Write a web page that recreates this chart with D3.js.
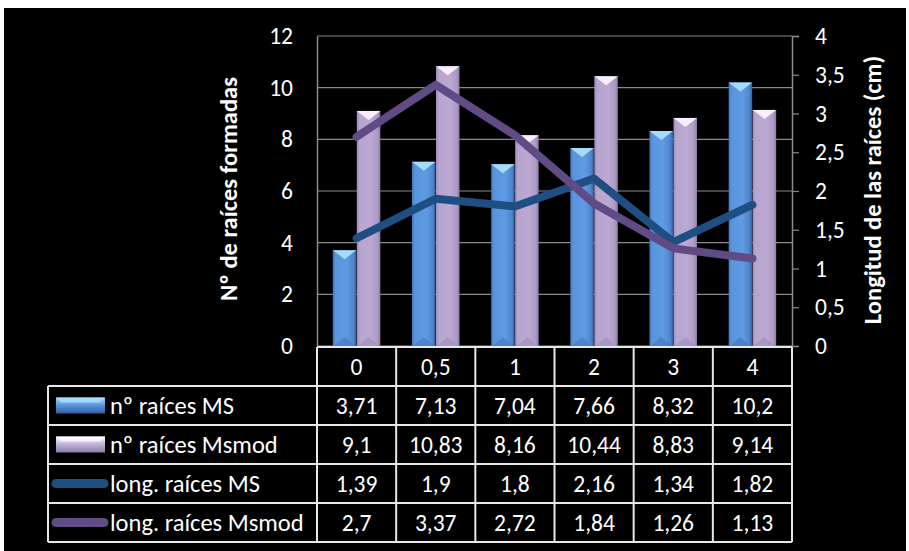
<!DOCTYPE html>
<html>
<head>
<meta charset="utf-8">
<script src="https://cdn.jsdelivr.net/npm/d3@7"></script>
<style>
  html, body { margin: 0; padding: 0; background: #fff; }
  svg { display: block; }
  text { font-family: Carlito, Lato, "Open Sans", sans-serif; fill: #fff; }
</style>
</head>
<body>
<svg id="chart" width="909" height="551"></svg>
<script>
// Concentration categories
const categories = ["0", "0,5", "1", "2", "3", "4"];

// Number of roots formed (left axis)
const raicesMS = [3.71, 7.13, 7.04, 7.66, 8.32, 10.2];
const raicesMsmod = [9.1, 10.83, 8.16, 10.44, 8.83, 9.14];

// Root length in cm (right axis)
const longMS = [1.39, 1.9, 1.8, 2.16, 1.34, 1.82];
const longMsmod = [2.7, 3.37, 2.72, 1.84, 1.26, 1.13];

const leftTicks = [0, 2, 4, 6, 8, 10, 12];
const rightTicks = [0, 0.5, 1, 1.5, 2, 2.5, 3, 3.5, 4];

const seriesNames = ["nº raíces MS", "nº raíces Msmod", "long. raíces MS", "long. raíces Msmod"];

const fmt = v => String(v).replace(".", ",");
const FS = 23.5;

const svg = d3.select("#chart");
const defs = svg.append("defs");

// frame
svg.append("rect").attr("x", 4).attr("y", 8).attr("width", 902).attr("height", 543).attr("fill", "#000");

const plot = { left: 317, right: 792, top: 36, bottom: 346 };

const x = d3.scaleBand().domain(categories).range([plot.left, plot.right]);
const x1 = d3.scaleBand().domain(["MS", "Msmod"])
  .range([x.bandwidth() * 0.2, x.bandwidth() * 0.8]).paddingInner(0.02);
const yL = d3.scaleLinear().domain([0, 12]).range([plot.bottom, plot.top]);
const yR = d3.scaleLinear().domain([0, 4]).range([plot.bottom, plot.top]);

// gradients for bevelled bars
function hGrad(id, stops) {
  const g = defs.append("linearGradient").attr("id", id).attr("x1", 0).attr("x2", 1).attr("y1", 0).attr("y2", 0);
  stops.forEach(s => g.append("stop").attr("offset", s[0]).attr("stop-color", s[1]));
}
hGrad("gBlue", [[0, "#4577bb"], [0.12, "#5a95dc"], [0.6, "#5e9be2"], [0.88, "#4f86cc"], [1, "#33609e"]]);
hGrad("gPurple", [[0, "#9e8cb8"], [0.12, "#b7a5d0"], [0.6, "#bba9d3"], [0.88, "#ad9bc6"], [1, "#8a79a3"]]);
function vGrad(id, stops) {
  const g = defs.append("linearGradient").attr("id", id).attr("x1", 0).attr("x2", 0).attr("y1", 0).attr("y2", 1);
  stops.forEach(s => g.append("stop").attr("offset", s[0]).attr("stop-color", s[1]));
}

// gridlines
svg.append("g").selectAll("line").data(leftTicks).join("line")
  .attr("x1", plot.left).attr("x2", plot.right)
  .attr("y1", d => yL(d)).attr("y2", d => yL(d))
  .attr("stroke", "#8a8a8a").attr("stroke-width", 1.2);

// left axis
const gL = svg.append("g").attr("transform", `translate(${plot.left},0)`)
  .call(d3.axisLeft(yL).tickValues(leftTicks).tickSize(0).tickPadding(24).tickFormat(fmt));
gL.select(".domain").attr("stroke", "#8a8a8a").attr("stroke-width", 1.5);
gL.selectAll("text").attr("fill", "#fff").attr("font-size", FS).style("font-family", "Carlito, Lato, sans-serif");

// right axis
const gR = svg.append("g").attr("transform", `translate(${plot.right},0)`)
  .call(d3.axisRight(yR).tickValues(rightTicks).tickSize(7).tickPadding(16).tickFormat(fmt));
gR.select(".domain").attr("stroke", "#8a8a8a").attr("stroke-width", 1.5);
gR.selectAll(".tick line").attr("stroke", "#8a8a8a").attr("stroke-width", 1.2);
gR.selectAll("text").attr("fill", "#fff").attr("font-size", FS).style("font-family", "Carlito, Lato, sans-serif");

// bars
const barSets = [
  { key: "MS", values: raicesMS, fill: "url(#gBlue)", cap: "#a6dcfb", base: "#4a7fc3" },
  { key: "Msmod", values: raicesMsmod, fill: "url(#gPurple)", cap: "#f7f0fc", base: "#a594bf" }
];
const bars = svg.append("g");
barSets.forEach(s => {
  const g = bars.append("g");
  s.values.forEach((v, i) => {
    const bx = x(categories[i]) + x1(s.key);
    const bw = x1.bandwidth();
    const top = yL(v);
    const bottom = yL(0);
    g.append("rect").attr("x", bx).attr("y", top).attr("width", bw).attr("height", bottom - top).attr("fill", s.fill);
    // cap facet
    g.append("path").attr("d", `M${bx},${top} L${bx + bw},${top} L${bx + bw / 2},${top + 9} Z`).attr("fill", s.cap);
    // base facet
    g.append("path").attr("d", `M${bx + 1},${bottom} L${bx + bw - 1},${bottom} L${bx + bw / 2},${bottom - 9} Z`).attr("fill", s.base).attr("opacity", 0.8);
  });
});

// lines
const lineSets = [
  { values: longMS, color: "#1f4e82" },
  { values: longMsmod, color: "#604b85" }
];
const lineGen = d3.line().x((d, i) => x(categories[i]) + x.bandwidth() / 2).y(d => yR(d));
lineSets.forEach(s => {
  svg.append("path").datum(s.values).attr("d", lineGen)
    .attr("fill", "none").attr("stroke", s.color).attr("stroke-width", 8)
    .attr("stroke-linejoin", "round").attr("stroke-linecap", "round");
});

// axis titles
svg.append("text").attr("transform", "translate(237,189) rotate(-90)")
  .attr("text-anchor", "middle").attr("font-size", 24.5).attr("font-weight", "bold")
  .text("Nº de raíces formadas");
svg.append("text").attr("transform", "translate(881,190) rotate(-90)")
  .attr("text-anchor", "middle").attr("font-size", 24.5).attr("font-weight", "bold")
  .text("Longitud de las raíces (cm)");

// data table
const tbl = svg.append("g");
const headTop = 347, rowH = 39, legendLeft = 48;
const rowsData = [raicesMS, raicesMsmod, longMS, longMsmod];
const tableBottom = headTop + rowH * 5;
function ln(x1v, y1v, x2v, y2v) {
  tbl.append("line").attr("x1", x1v).attr("y1", y1v).attr("x2", x2v).attr("y2", y2v)
    .attr("stroke", "#e8e8e8").attr("stroke-width", 2);
}
// horizontal lines
ln(plot.left, headTop, plot.right, headTop);
for (let r = 1; r <= 5; r++) ln(legendLeft, headTop + rowH * r, plot.right, headTop + rowH * r);
// vertical lines
ln(legendLeft, headTop + rowH, legendLeft, tableBottom);
categories.forEach(c => ln(x(c), headTop, x(c), tableBottom));
ln(plot.right, headTop, plot.right, tableBottom);

// header labels
tbl.selectAll("text.head").data(categories).join("text")
  .attr("x", d => x(d) + x.bandwidth() / 2).attr("y", headTop + rowH / 2 + 8)
  .attr("text-anchor", "middle").attr("font-size", FS).text(d => d);

rowsData.forEach((vals, r) => {
  const cy = headTop + rowH * (r + 1) + rowH / 2;
  vals.forEach((v, i) => {
    tbl.append("text").attr("x", x(categories[i]) + x.bandwidth() / 2).attr("y", cy + 8)
      .attr("text-anchor", "middle").attr("font-size", FS).text(fmt(v));
  });
  tbl.append("text").attr("x", 110).attr("y", cy + 8).attr("font-size", FS + 1).text(seriesNames[r]);
});

// legend keys
vGrad("kBlue", [[0, "#9fd6fb"], [0.45, "#5c9be0"], [1, "#2f5f9f"]]);
vGrad("kPurple", [[0, "#ffffff"], [0.45, "#c5b6db"], [1, "#8c7ba8"]]);
[["kBlue", "#b5e3ff"], ["kPurple", "#ffffff"]].forEach((k, r) => {
  const cy = headTop + rowH * (r + 1) + rowH / 2;
  tbl.append("rect").attr("x", 56).attr("y", cy - 8).attr("width", 49).attr("height", 16).attr("fill", `url(#${k[0]})`);
  tbl.append("path").attr("d", `M56,${cy - 8} L105,${cy - 8} L100,${cy - 3} L61,${cy - 3} Z`).attr("fill", k[1]).attr("opacity", 0.7);
});
lineSets.forEach((s, r) => {
  const cy = headTop + rowH * (r + 3) + rowH / 2;
  tbl.append("line").attr("x1", 56).attr("x2", 104).attr("y1", cy).attr("y2", cy)
    .attr("stroke", s.color).attr("stroke-width", 9).attr("stroke-linecap", "round");
});
</script>
</body>
</html>
